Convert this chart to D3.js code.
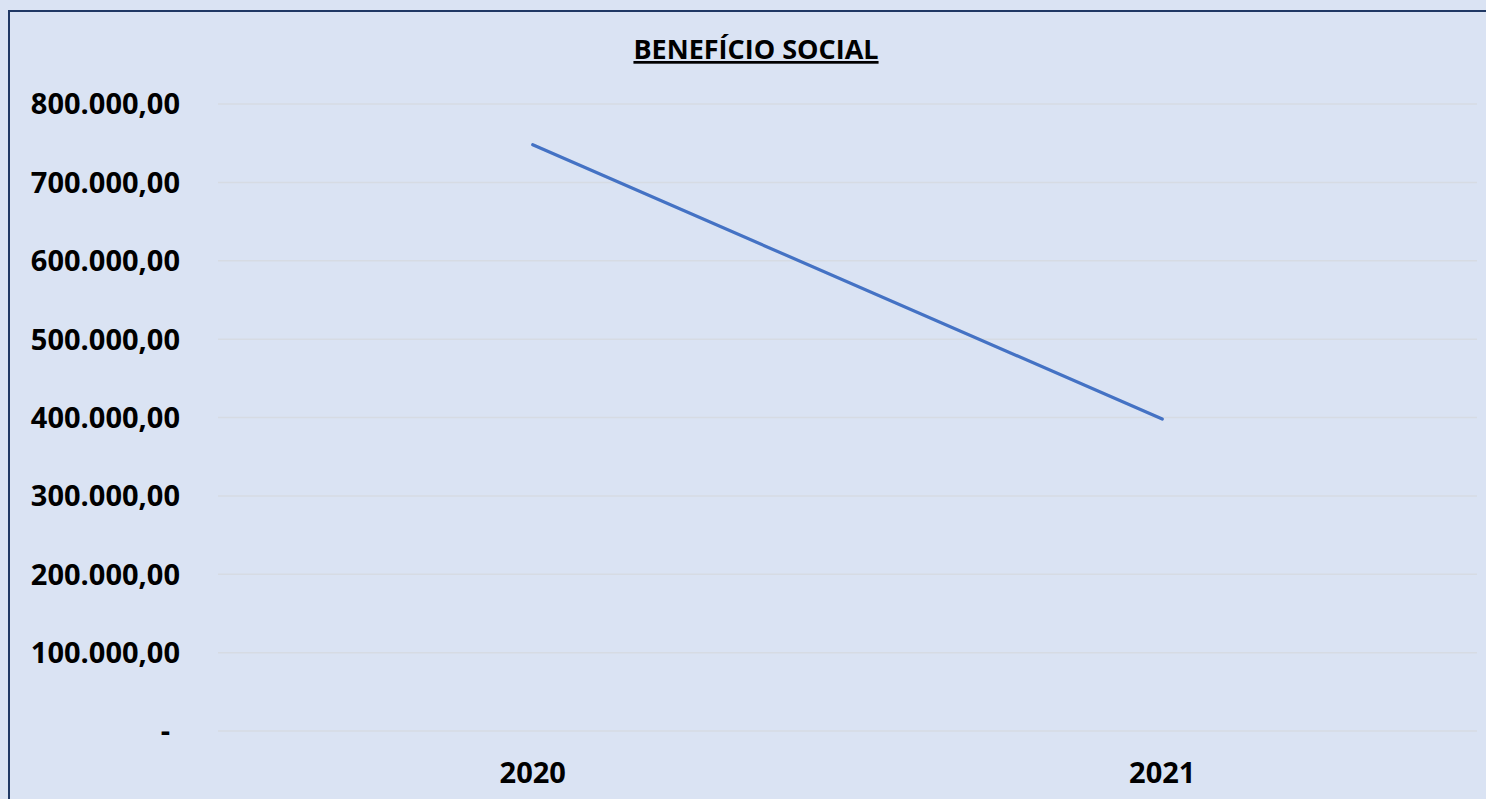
<!DOCTYPE html>
<html>
<head>
<meta charset="utf-8">
<script src="https://cdn.jsdelivr.net/npm/d3@7"></script>
<style>
  html, body { margin: 0; padding: 0; background: #dae3f3; }
  svg { display: block; }
  text { font-family: "Open Sans", "DejaVu Sans", sans-serif; font-weight: bold; fill: #000; }
</style>
</head>
<body>
<div id="chart"></div>
<script>
const title = 'BENEFÍCIO SOCIAL';
const years = ['2020', '2021'];
const values = [748000, 398000];
const yTicks = [0, 100000, 200000, 300000, 400000, 500000, 600000, 700000, 800000];

const width = 1486, height = 799;
const margin = {left: 218, right: 9, top: 104, bottom: 68};

const svg = d3.select('#chart').append('svg')
    .attr('width', width)
    .attr('height', height);

svg.append('rect')
    .attr('width', width).attr('height', height)
    .attr('fill', '#dae3f3');

// frame (runs off the right and bottom edges like the source)
svg.append('rect')
    .attr('x', 9).attr('y', 11)
    .attr('width', width + 20).attr('height', height + 20)
    .attr('fill', 'none')
    .attr('stroke', '#1f3864')
    .attr('stroke-width', 2);

const x = d3.scalePoint()
    .domain(years)
    .range([margin.left, width - margin.right])
    .padding(0.5);

const y = d3.scaleLinear()
    .domain([0, 800000])
    .range([height - margin.bottom, margin.top]);

const fmt = v => v === 0 ? '-' : d3.formatLocale({decimal: ',', thousands: '.', grouping: [3]}).format(',.2f')(v);

// gridlines
svg.append('g')
  .selectAll('line')
  .data(yTicks)
  .join('line')
    .attr('x1', margin.left)
    .attr('x2', width - margin.right)
    .attr('y1', d => y(d))
    .attr('y2', d => y(d))
    .attr('stroke', '#d6dbe3')
    .attr('stroke-width', 1.5);

// y labels
svg.append('g')
  .selectAll('text')
  .data(yTicks)
  .join('text')
    .attr('x', d => d === 0 ? 170 : 180)
    .attr('y', d => y(d))
    .attr('dy', '0.36em')
    .attr('text-anchor', 'end')
    .style('font-size', '29px')
    .text(fmt);

// x labels
svg.append('g')
  .selectAll('text')
  .data(years)
  .join('text')
    .attr('x', d => x(d))
    .attr('y', 783)
    .attr('text-anchor', 'middle')
    .style('font-size', '29px')
    .text(d => d);

// line
const line = d3.line()
    .x((d, i) => x(years[i]))
    .y(d => y(d));

svg.append('path')
    .datum(values)
    .attr('d', line)
    .attr('fill', 'none')
    .attr('stroke', '#4472c4')
    .attr('stroke-width', 3.2)
    .attr('stroke-linecap', 'round');

// title
svg.append('text')
    .attr('x', 756)
    .attr('y', 59)
    .attr('text-anchor', 'middle')
    .style('font-size', '27px')
    .style('text-decoration', 'underline')
    .text(title);
</script>
</body>
</html>
